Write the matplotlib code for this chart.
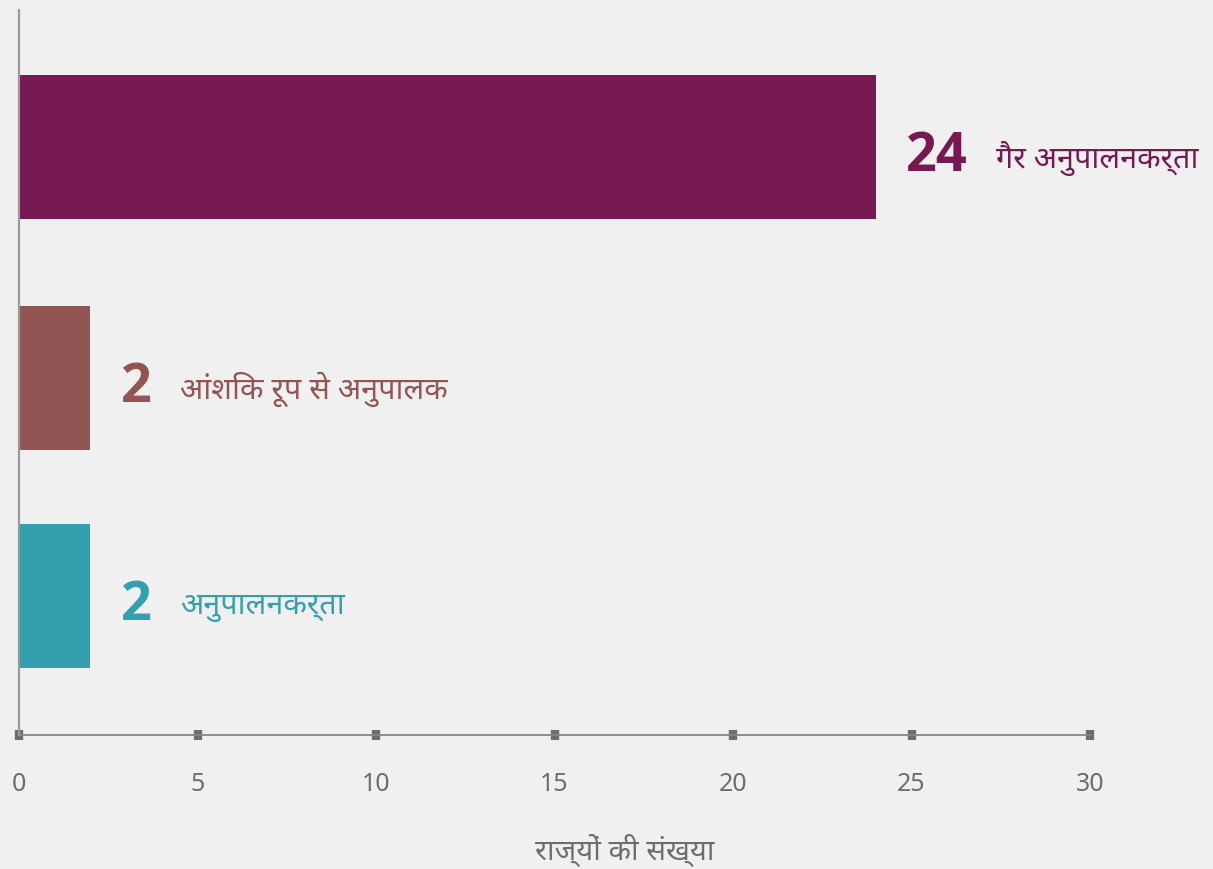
import matplotlib
matplotlib.use("Agg")
import matplotlib.pyplot as plt
from matplotlib import font_manager

# ---- data ----
categories = ["गैर अनुपालनकर्ता", "आंशिक रूप से अनुपालक", "अनुपालनकर्ता"]
values = [24, 2, 2]
bar_colors = ["#771853", "#935454", "#33a0ae"]
x_ticks = [0, 5, 10, 15, 20, 25, 30]
x_label = "राज्यों की संख्या"

# ---- fonts ----
ttf = font_manager.fontManager.ttflist
available = {f.name for f in ttf}
deva = None
for cand in ["Noto Sans Devanagari", "Hind", "Mukta", "Anek Devanagari", "Poppins", "Akshar"]:
    if cand in available:
        deva = cand
        break
fam = [deva, "DejaVu Sans"] if deva else ["DejaVu Sans"]
plt.rcParams["font.family"] = fam


def has_bold(name):
    for f in ttf:
        if f.name == name:
            w = f.weight
            if isinstance(w, str):
                if "bold" in w.lower():
                    return True
            elif w >= 700:
                return True
    return False


bold_fam = "DejaVu Sans"
for cand in ["Noto Sans", "Open Sans", "Lato", "Roboto", "Liberation Sans"]:
    if has_bold(cand):
        bold_fam = cand
        break
num_fam = ["Noto Sans", "DejaVu Sans"]

bg = "#f0f0f0"
fig = plt.figure(figsize=(12.13, 8.69), dpi=100, facecolor=bg)
ax = fig.add_axes([19 / 1213, 134 / 869, 1071 / 1213, 725 / 869], facecolor=bg)

y_pos = [0, 1.03, 2]
ax.barh(y_pos, values, height=0.64, color=bar_colors, zorder=2)
ax.set_ylim(2.62, -0.61)
ax.set_xlim(0, 30)

for s in ["top", "right"]:
    ax.spines[s].set_visible(False)
ax.spines["left"].set_color("#9a9a9a")
ax.spines["left"].set_linewidth(1.6)
ax.spines["bottom"].set_color("#858585")
ax.spines["bottom"].set_linewidth(1.3)
ax.spines["left"].set_zorder(3)

ax.set_yticks([])
ax.set_xticks(x_ticks)
ax.set_xticklabels([str(t) for t in x_ticks], family=num_fam)
ax.tick_params(axis="x", direction="inout", length=7, width=6, color="#6d6d6f",
               labelcolor="#6d6d6f", labelsize=18, pad=23)
ax.set_xlabel(x_label, fontsize=21, color="#6d6d6f", labelpad=27, x=0.566)

fig.canvas.draw()
renderer = fig.canvas.get_renderer()
inv = ax.transData.inverted()
for y, v, c, cat in zip(y_pos, values, bar_colors, categories):
    num = ax.text(v + 0.85, y + 0.045, str(v), color=c, fontsize=39, fontweight="bold",
                  family=[bold_fam, "DejaVu Sans"], ha="left", va="center", zorder=4)
    bb = num.get_window_extent(renderer=renderer)
    x_end = inv.transform((bb.x1, bb.y0))[0]
    ax.text(x_end + 0.8, y + 0.05, cat, color=c, fontsize=22, ha="left", va="center", zorder=4)

fig.savefig("out.png", dpi=100, facecolor=bg)
